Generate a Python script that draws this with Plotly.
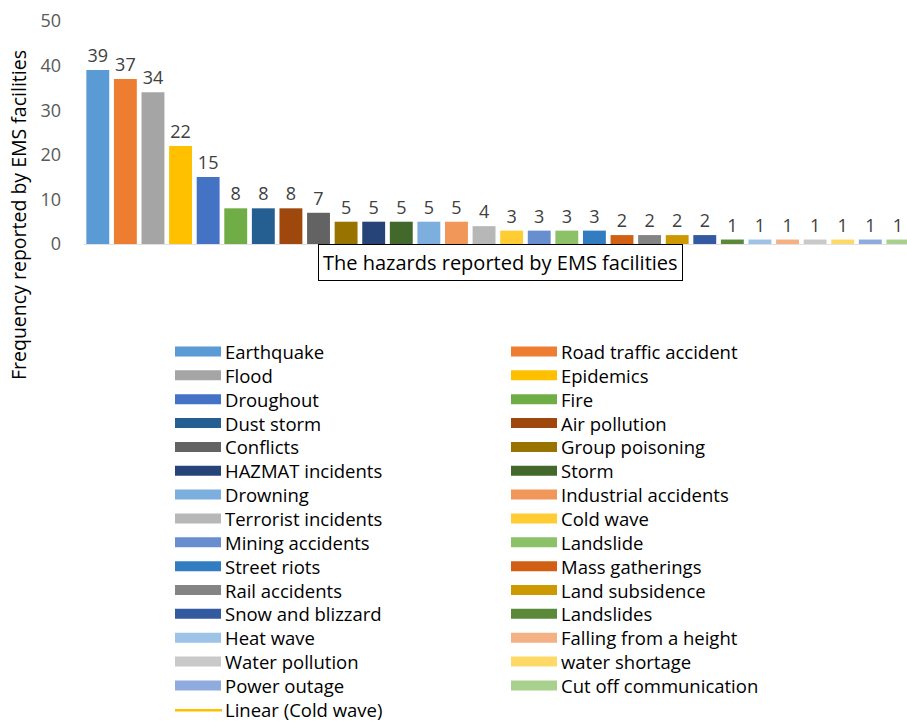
import plotly.graph_objects as go

hazards = ["Earthquake", "Road traffic accident", "Flood", "Epidemics", "Droughout", "Fire",
           "Dust storm", "Air pollution", "Conflicts", "Group poisoning", "HAZMAT incidents",
           "Storm", "Drowning", "Industrial accidents", "Terrorist incidents", "Cold wave",
           "Mining accidents", "Landslide", "Street riots", "Mass gatherings", "Rail accidents",
           "Land subsidence", "Snow and blizzard", "Landslides", "Heat wave",
           "Falling from a height", "Water pollution", "water shortage", "Power outage",
           "Cut off communication"]
counts = [39, 37, 34, 22, 15, 8, 8, 8, 7, 5, 5, 5, 5, 5, 4, 3, 3, 3, 3, 2, 2, 2, 2,
          1, 1, 1, 1, 1, 1, 1]
colors = ["#5B9BD5", "#ED7D31", "#A5A5A5", "#FFC000", "#4472C4", "#70AD47",
          "#255E91", "#9E480E", "#636363", "#997300", "#264478", "#43682B",
          "#7CAFDD", "#F1975A", "#B7B7B7", "#FFCD33", "#698ED0", "#8CC168",
          "#327DC2", "#D26012", "#848484", "#CC9A00", "#335AA1", "#5A8A39",
          "#9DC3E6", "#F4B183", "#C9C9C9", "#FFD966", "#8FAADC", "#A9D18E"]
trend_label = "Linear (Cold wave)"
trend_color = "#FFC000"

W, H = 907, 723
ML, MT, MR, MB = 84, 21, 0, 479
PW, PH = W - ML - MR, H - MT - MB
FONT = "Open Sans"


def px(x):
    return (x - ML) / PW


def py(y):
    return 1 - (y - MT) / PH


fig = go.Figure()
fig.add_trace(go.Bar(
    x=hazards, y=counts, marker=dict(color=colors, line=dict(width=0)),
    width=0.83, text=counts, textposition="outside", cliponaxis=False,
    textfont=dict(family=FONT, size=18, color="#404040"), showlegend=False,
))

shapes = []
annotations = []
row0, row_h = 351.5, 23.85
for i, (name, col) in enumerate(zip(hazards, colors)):
    r, c = divmod(i, 2)
    yc = row0 + r * row_h
    x0 = 175 if c == 0 else 511
    shapes.append(dict(type="rect", xref="paper", yref="paper",
                       x0=px(x0), x1=px(x0 + 46), y0=py(yc + 5), y1=py(yc - 5),
                       fillcolor=col, line=dict(width=0)))
    annotations.append(dict(xref="paper", yref="paper", x=px(x0 + 49), y=py(yc),
                            xanchor="left", yanchor="middle", text=name, showarrow=False,
                            borderpad=0,
                            font=dict(family=FONT, size=18.5, color="#000000")))
yc = row0 + 15 * row_h
shapes.append(dict(type="line", xref="paper", yref="paper", x0=px(175), x1=px(222),
                   y0=py(yc + 1), y1=py(yc + 1), line=dict(color=trend_color, width=2.5)))
annotations.append(dict(xref="paper", yref="paper", x=px(224), y=py(yc), xanchor="left",
                        yanchor="middle", text=trend_label, showarrow=False, borderpad=0,
                        font=dict(family=FONT, size=18.5, color="#000000")))

annotations.append(dict(xref="paper", yref="paper", x=px(501), y=py(262),
                        xanchor="center", yanchor="middle",
                        text="The hazards reported by EMS facilities", showarrow=False,
                        bordercolor="#000000", borderwidth=1, borderpad=4, bgcolor="#FFFFFF",
                        font=dict(family=FONT, size=20, color="#000000")))
annotations.append(dict(xref="paper", yref="paper", x=px(18), y=py(215),
                        xanchor="center", yanchor="middle", textangle=-90,
                        text="Frequency reported by EMS facilities", showarrow=False,
                        font=dict(family=FONT, size=19.5, color="#000000")))

fig.update_layout(
    width=W, height=H, margin=dict(l=ML, r=MR, t=MT, b=MB),
    paper_bgcolor="#FFFFFF", plot_bgcolor="#FFFFFF",
    shapes=shapes, annotations=annotations, bargap=0.17,
    xaxis=dict(showticklabels=False, showgrid=False, zeroline=False, ticks="",
               showline=True, linecolor="#E0E0E0", linewidth=1,
               range=[-0.5, 29.33]),
    yaxis=dict(range=[0, 50], dtick=10, showgrid=False, zeroline=False, showline=False,
               ticks="", ticklabelstandoff=22,
               tickfont=dict(family=FONT, size=18, color="#595959")),
)

fig.write_html("out.html")
